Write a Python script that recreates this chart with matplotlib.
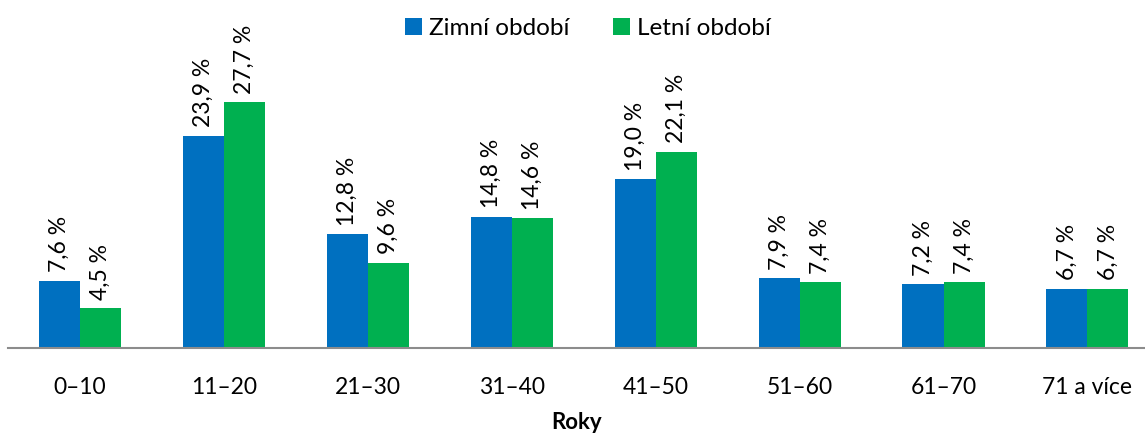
import numpy as np
import matplotlib
matplotlib.use('Agg')
import matplotlib.pyplot as plt

plt.rcParams['font.family'] = ['Lato', 'DejaVu Sans']

kategorie = ['0–10', '11–20', '21–30', '31–40', '41–50', '51–60', '61–70', '71 a více']
zima = [7.6, 23.9, 12.8, 14.8, 19.0, 7.9, 7.2, 6.7]
leto = [4.5, 27.7, 9.6, 14.6, 22.1, 7.4, 7.4, 6.7]
popis_zima = ['7,6 %', '23,9 %', '12,8 %', '14,8 %', '19,0 %', '7,9 %', '7,2 %', '6,7 %']
popis_leto = ['4,5 %', '27,7 %', '9,6 %', '14,6 %', '22,1 %', '7,4 %', '7,4 %', '6,7 %']

modra = '#0070C0'
zelena = '#00B050'

fig = plt.figure(figsize=(11.45, 4.36), dpi=100)
ax = fig.add_axes([0.007, 0.2018, 0.993, 0.7982])

x = np.arange(len(kategorie))
w = 0.285
b1 = ax.bar(x - w/2, zima, w, color=modra, label='Zimní období')
b2 = ax.bar(x + w/2, leto, w, color=zelena, label='Letní období')

for bars, texty in ((b1, popis_zima), (b2, popis_leto)):
    for r, t in zip(bars, texty):
        ax.annotate(t, (r.get_x() + r.get_width()/2, r.get_height()),
                    xytext=(0, 6), textcoords='offset points',
                    rotation=90, ha='center', va='bottom', fontsize=16.5)

ax.set_xlim(-0.5, 7.4)
ax.set_ylim(0, 39.2)
ax.set_yticks([])
ax.set_xticks(x)
ax.set_xticklabels(kategorie, fontsize=16.5)
ax.tick_params(axis='x', length=0, pad=21)
for s in ['top', 'right', 'left']:
    ax.spines[s].set_visible(False)
ax.spines['bottom'].set_color('#8c8c8c')
ax.spines['bottom'].set_linewidth(1.5)
ax.set_xlabel('Roky', fontsize=16, fontweight='bold', labelpad=10)

ax.legend(loc='upper center', bbox_to_anchor=(0.51, 1.01), ncol=2, frameon=False,
          fontsize=17.5, handlelength=0.7, handleheight=0.7, handletextpad=0.3,
          columnspacing=1.8)

fig.savefig('out.png', dpi=100)
